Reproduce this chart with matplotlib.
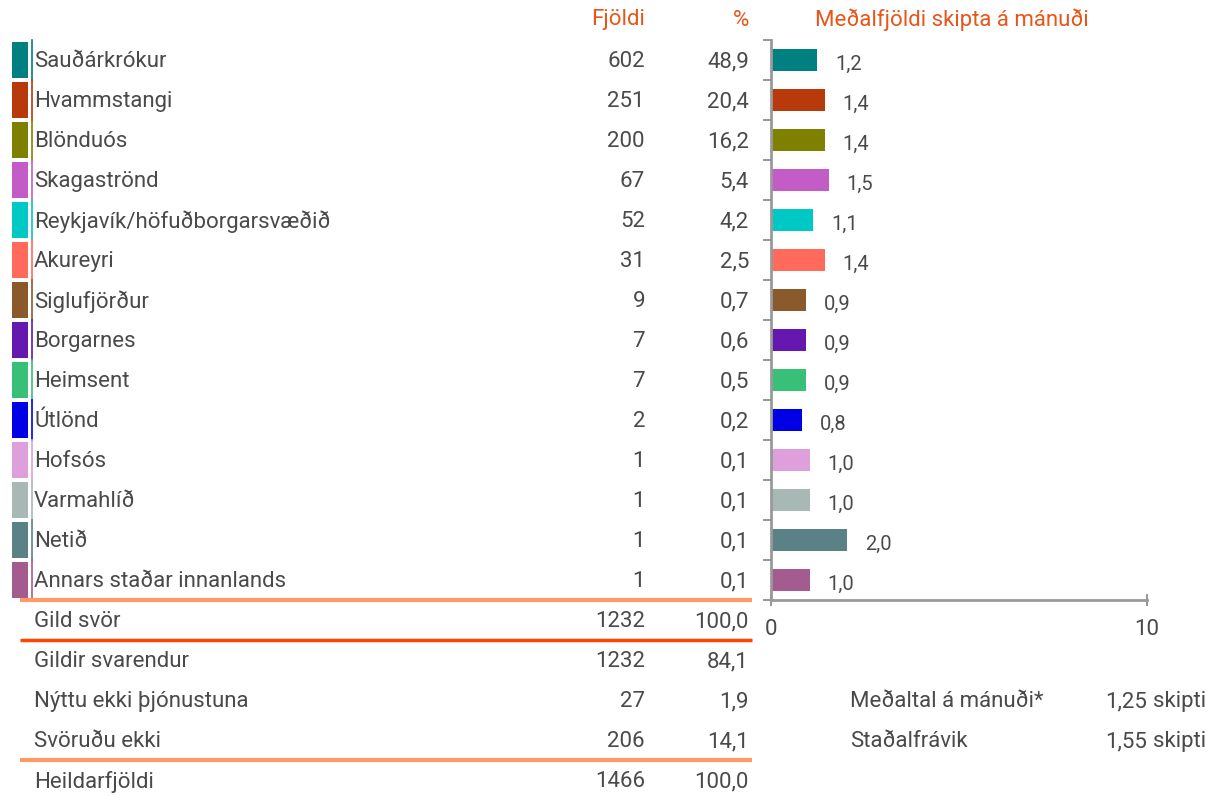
import matplotlib
matplotlib.use("Agg")
import matplotlib.pyplot as plt
import numpy as np

# data
places = ["Sauðárkrókur", "Hvammstangi", "Blönduós", "Skagaströnd",
          "Reykjavík/höfuðborgarsvæðið", "Akureyri", "Siglufjörður", "Borgarnes",
          "Heimsent", "Útlönd", "Hofsós", "Varmahlíð", "Netið",
          "Annars staðar innanlands"]
counts = [602, 251, 200, 67, 52, 31, 9, 7, 7, 2, 1, 1, 1, 1]
pcts = ["48,9", "20,4", "16,2", "5,4", "4,2", "2,5", "0,7", "0,6", "0,5",
        "0,2", "0,1", "0,1", "0,1", "0,1"]
means = [1.2, 1.4, 1.4, 1.5, 1.1, 1.4, 0.9, 0.9, 0.9, 0.8, 1.0, 1.0, 2.0, 1.0]
colors = ["#008080", "#B83A0A", "#808000", "#C45CC8", "#00C8C4", "#FF6A5A",
          "#8B5A2B", "#6418B0", "#38C078", "#0000E6", "#DDA0DD", "#A8B8B4",
          "#5A8286", "#A45C90"]

summary_labels = ["Gild svör", "Gildir svarendur", "Nýttu ekki þjónustuna",
                  "Svöruðu ekki", "Heildarfjöldi"]
summary_counts = [1232, 1232, 27, 206, 1466]
summary_pcts = ["100,0", "84,1", "1,9", "14,1", "100,0"]

stat_labels = ["Meðaltal á mánuði*", "Staðalfrávik"]
stat_values = ["1,25", "1,55"]

W, H = 1209, 797
TXT = "#4a4a4a"
ORANGE = "#E8561A"
FONT = "Roboto"
FS = 16
kw = dict(fontsize=FS, color=TXT, family=FONT)

fig = plt.figure(figsize=(W / 100, H / 100), dpi=100)

# table axes: x in pixels, y in row units (row i centre at 60 + 40*i px)
tab = fig.add_axes([0, 0, 1, 1])
tab.set_xlim(0, W)
tab.set_ylim((H - 60) / 40.0, -60 / 40.0)
tab.axis("off")

rows = np.arange(len(places))
tab.barh(rows, 16, left=12, height=0.9, color=colors)
for r, c in zip(rows, colors):
    tab.plot([32, 32], [r - 0.5, r + 0.5], color=c, lw=1.2)

for r, name, n, p in zip(rows, places, counts, pcts):
    tab.text(34, r + 0.04, name, ha="left", va="center", **kw)
    tab.text(645, r + 0.04, str(n), ha="right", va="center", **kw)
    tab.text(749, r + 0.04, p, ha="right", va="center", **kw)

srows = len(places) + np.arange(len(summary_labels))
for r, name, n, p in zip(srows, summary_labels, summary_counts, summary_pcts):
    tab.text(34, r + 0.04, name, ha="left", va="center", **kw)
    tab.text(645, r + 0.04, str(n), ha="right", va="center", **kw)
    tab.text(749, r + 0.04, p, ha="right", va="center", **kw)

# separator lines
tab.plot([20, 752], [13.5, 13.5], color="#FF9966", lw=3, solid_capstyle="butt")
tab.plot([20, 752], [14.5, 14.5], color="#FF4500", lw=2.5, solid_capstyle="butt")
tab.plot([20, 752], [17.5, 17.5], color="#FF9966", lw=3, solid_capstyle="butt")

# headers
hkw = dict(kw, color=ORANGE)
tab.text(645, -1, "Fjöldi", ha="right", va="center", **hkw)
tab.text(749, -1, "%", ha="right", va="center", **hkw)
tab.text(815, -1, "Meðalfjöldi skipta á mánuði", ha="left", va="center", **hkw)

# stats
for i, (lab, val) in enumerate(zip(stat_labels, stat_values)):
    r = 16 + i
    tab.text(850, r + 0.04, lab, ha="left", va="center", **kw)
    tab.text(1147, r + 0.04, val, ha="right", va="center", **kw)
    tab.text(1153, r + 0.04, "skipti", ha="left", va="center", **kw)

# bar chart
x0, x1 = 771, 1147
y_top, y_bot = 40, 600
ax = fig.add_axes([x0 / W, 1 - y_bot / H, (x1 - x0) / W, (y_bot - y_top) / H])
ax.barh(rows, means, height=0.54, color=colors, left=0.03)
ax.set_xlim(0, 10)
ax.set_ylim(len(places) - 0.5, -0.5)
for r, v in zip(rows, means):
    ax.text(v + 0.5, r + 0.1, f"{v:.1f}".replace(".", ","), ha="left", va="center",
            fontsize=14.5, color=TXT, family=FONT)
for s in ["top", "right"]:
    ax.spines[s].set_visible(False)
for s in ["left", "bottom"]:
    ax.spines[s].set_color("#999999")
    ax.spines[s].set_linewidth(2)
ax.set_yticks(np.arange(-0.5, len(places)), labels=[])
ax.tick_params(axis="y", length=6, width=1.5, color="#999999", direction="out")
ax.set_xticks([0, 10])
ax.set_xticklabels(["0", "10"], fontsize=FS, color=TXT, family=FONT)
ax.tick_params(axis="x", length=8, width=1.5, color="#999999", direction="inout", pad=10)

fig.savefig("out.png", dpi=100)
